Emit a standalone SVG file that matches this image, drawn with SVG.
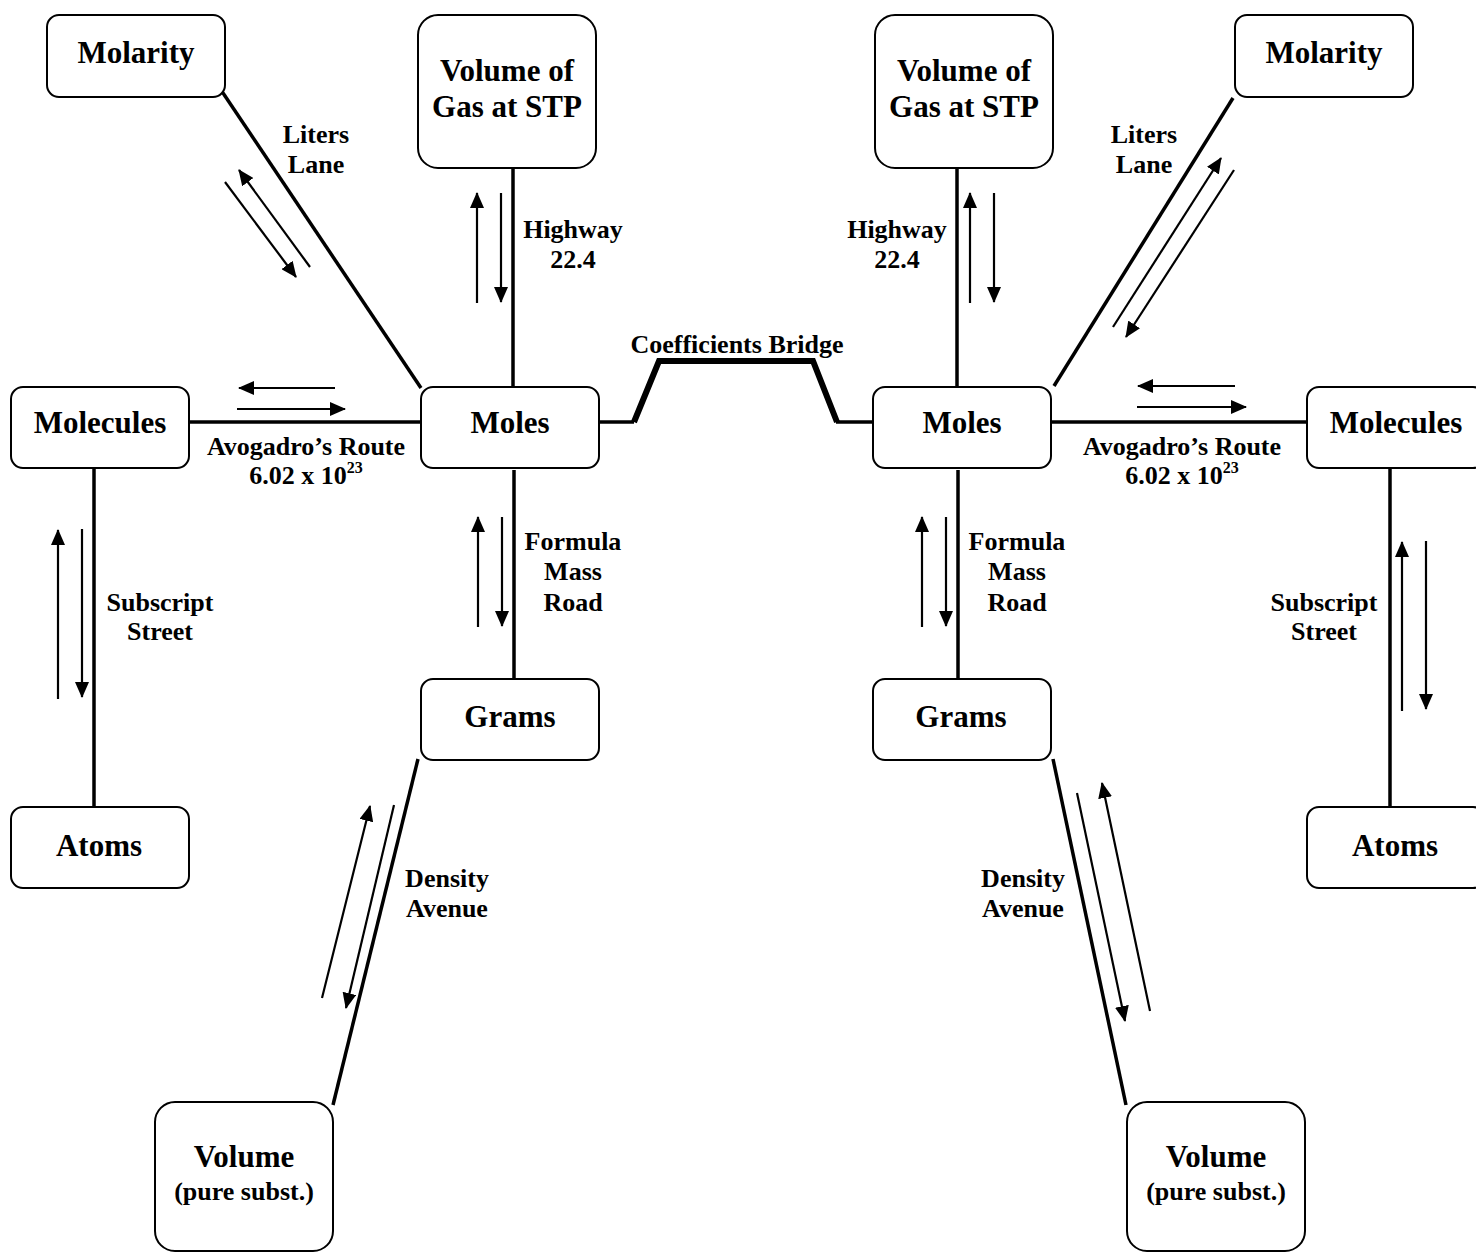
<svg xmlns="http://www.w3.org/2000/svg" width="1476" height="1252" viewBox="0 0 1476 1252">
<defs>
<marker id="ah" viewBox="0 0 16 14" refX="15" refY="7" markerWidth="16" markerHeight="14" markerUnits="userSpaceOnUse" orient="auto">
<path d="M0,0 L16,7 L0,14 z" fill="#000"/>
</marker>
<style>
.box{fill:#fff;stroke:#000;stroke-width:2}
.nt{font-family:"Liberation Serif","Times New Roman",serif;font-weight:bold;font-size:31px;text-anchor:middle;fill:#000}
.lt{font-family:"Liberation Serif","Times New Roman",serif;font-weight:bold;font-size:26px;text-anchor:middle;fill:#000}
.road{fill:none;stroke:#000;stroke-width:3.5}
.bridge{fill:none;stroke:#000;stroke-width:6;stroke-linejoin:miter}
.arr{fill:none;stroke:#000;stroke-width:2.2;marker-end:url(#ah)}
</style>
</defs>
<rect width="1476" height="1252" fill="#fff"/>
<g id="connectors">
<path class="road" d="M221,90 L421,388"/>
<path class="road" d="M513,168 V387"/>
<path class="road" d="M189,422 H420"/>
<path class="road" d="M514,470 V679"/>
<path class="road" d="M94,468 V807"/>
<path class="road" d="M418,759 L333,1105"/>
<path class="road" d="M598,422 H634"/>
<path class="bridge" d="M634,422 L659,361 H813 L837,422"/>
<path class="road" d="M836,422 H873"/>
<path class="road" d="M957,168 V387"/>
<path class="road" d="M1054,386 L1233,98"/>
<path class="road" d="M1051,422 H1307"/>
<path class="road" d="M958,470 V679"/>
<path class="road" d="M1390,468 V807"/>
<path class="road" d="M1053,759 L1126,1105"/>
<path class="arr" d="M225,182 L296,277"/>
<path class="arr" d="M310,267 L239,170"/>
<path class="arr" d="M477,303 V193"/>
<path class="arr" d="M501,193 V302"/>
<path class="arr" d="M335,388 H239"/>
<path class="arr" d="M237,409 H345"/>
<path class="arr" d="M478,627 V517"/>
<path class="arr" d="M502,517 V626"/>
<path class="arr" d="M58,699 V530"/>
<path class="arr" d="M82,529 V697"/>
<path class="arr" d="M394,805 L346,1008"/>
<path class="arr" d="M322,998 L370,806"/>
<path class="arr" d="M970,303 V193"/>
<path class="arr" d="M994,193 V302"/>
<path class="arr" d="M1113,327 L1221,158"/>
<path class="arr" d="M1234,170 L1126,337"/>
<path class="arr" d="M1235,386 H1138"/>
<path class="arr" d="M1137,407 H1246"/>
<path class="arr" d="M922,627 V517"/>
<path class="arr" d="M946,517 V626"/>
<path class="arr" d="M1402,711 V542"/>
<path class="arr" d="M1426,541 V709"/>
<path class="arr" d="M1077,793 L1125,1021"/>
<path class="arr" d="M1150,1011 L1102,783"/>
</g>
<g id="labels">
<text class="lt" x="316" y="143">Liters</text>
<text class="lt" x="316" y="173">Lane</text>
<text class="lt" x="573" y="238">Highway</text>
<text class="lt" x="573" y="268">22.4</text>
<text class="lt" x="306" y="455">Avogadro’s Route</text>
<text class="lt" x="306" y="484">6.02 x 10<tspan dy="-11" font-size="16">23</tspan></text>
<text class="lt" x="573" y="550">Formula</text>
<text class="lt" x="573" y="580">Mass</text>
<text class="lt" x="573" y="611">Road</text>
<text class="lt" x="160" y="611">Subscript</text>
<text class="lt" x="160" y="640">Street</text>
<text class="lt" x="447" y="887">Density</text>
<text class="lt" x="447" y="917">Avenue</text>
<text class="lt" x="737" y="353">Coefficients Bridge</text>
<text class="lt" x="1144" y="143">Liters</text>
<text class="lt" x="1144" y="173">Lane</text>
<text class="lt" x="897" y="238">Highway</text>
<text class="lt" x="897" y="268">22.4</text>
<text class="lt" x="1182" y="455">Avogadro’s Route</text>
<text class="lt" x="1182" y="484">6.02 x 10<tspan dy="-11" font-size="16">23</tspan></text>
<text class="lt" x="1017" y="550">Formula</text>
<text class="lt" x="1017" y="580">Mass</text>
<text class="lt" x="1017" y="611">Road</text>
<text class="lt" x="1324" y="611">Subscript</text>
<text class="lt" x="1324" y="640">Street</text>
<text class="lt" x="1023" y="887">Density</text>
<text class="lt" x="1023" y="917">Avenue</text>
</g>
<g id="molarity-left"><rect class="box" x="47" y="15" width="178" height="82" rx="12"/><text class="nt" x="136" y="63">Molarity</text></g>
<g id="gas-left"><rect class="box" x="418" y="15" width="178" height="153" rx="20"/><text class="nt" x="507" y="81">Volume of</text><text class="nt" x="507" y="117">Gas at STP</text></g>
<g id="molecules-left"><rect class="box" x="11" y="387" width="178" height="81" rx="12"/><text class="nt" x="100" y="433">Molecules</text></g>
<g id="moles-left"><rect class="box" x="421" y="387" width="178" height="81" rx="12"/><text class="nt" x="510" y="433">Moles</text></g>
<g id="grams-left"><rect class="box" x="421" y="679" width="178" height="81" rx="12"/><text class="nt" x="510" y="727">Grams</text></g>
<g id="atoms-left"><rect class="box" x="11" y="807" width="178" height="81" rx="12"/><text class="nt" x="99" y="856">Atoms</text></g>
<g id="volume-left"><rect class="box" x="155" y="1102" width="178" height="149" rx="20"/><text class="nt" x="244" y="1167">Volume</text><text class="lt" x="244" y="1200">(pure subst.)</text></g>
<g id="gas-right"><rect class="box" x="875" y="15" width="178" height="153" rx="20"/><text class="nt" x="964" y="81">Volume of</text><text class="nt" x="964" y="117">Gas at STP</text></g>
<g id="molarity-right"><rect class="box" x="1235" y="15" width="178" height="82" rx="12"/><text class="nt" x="1324" y="63">Molarity</text></g>
<g id="moles-right"><rect class="box" x="873" y="387" width="178" height="81" rx="12"/><text class="nt" x="962" y="433">Moles</text></g>
<g id="molecules-right"><rect class="box" x="1307" y="387" width="178" height="81" rx="12"/><text class="nt" x="1396" y="433">Molecules</text></g>
<g id="grams-right"><rect class="box" x="873" y="679" width="178" height="81" rx="12"/><text class="nt" x="961" y="727">Grams</text></g>
<g id="atoms-right"><rect class="box" x="1307" y="807" width="178" height="81" rx="12"/><text class="nt" x="1395" y="856">Atoms</text></g>
<g id="volume-right"><rect class="box" x="1127" y="1102" width="178" height="149" rx="20"/><text class="nt" x="1216" y="1167">Volume</text><text class="lt" x="1216" y="1200">(pure subst.)</text></g>
</svg>
